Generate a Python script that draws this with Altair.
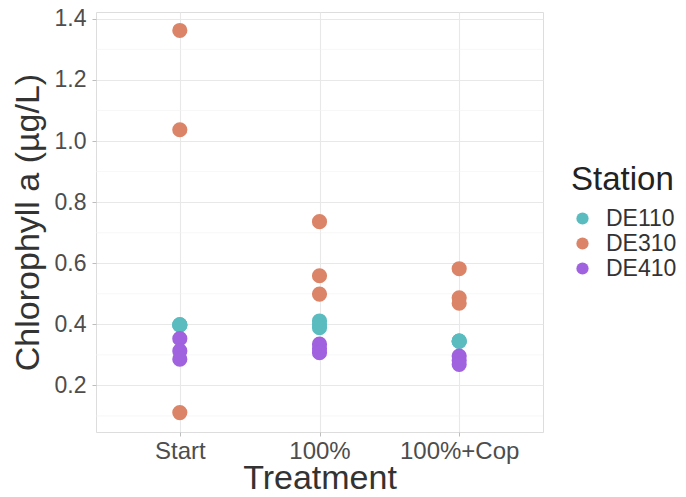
import altair as alt
import pandas as pd

treatments = ["Start", "100%", "100%+Cop"]
stations = ["DE110", "DE310", "DE410"]
colors = ["#5BBCC0", "#DB8468", "#A062DE"]

# values per treatment, per station
start_de110 = [0.398, 0.398, 0.398]
start_de310 = [1.362, 1.037, 0.111]
start_de410 = [0.353, 0.313, 0.286]
p100_de110 = [0.411, 0.389, 0.400]
p100_de310 = [0.736, 0.559, 0.499]
p100_de410 = [0.335, 0.321, 0.307]
cop_de110 = [0.345, 0.345, 0.345]
cop_de310 = [0.582, 0.487, 0.469]
cop_de410 = [0.296, 0.282, 0.269]

major_ticks = [0.2, 0.4, 0.6, 0.8, 1.0, 1.2, 1.4]
minor_grid = [0.1, 0.3, 0.5, 0.7, 0.9, 1.1, 1.3]

rows = []
for t, groups in zip(treatments, [
    [start_de110, start_de310, start_de410],
    [p100_de110, p100_de310, p100_de410],
    [cop_de110, cop_de310, cop_de410],
]):
    for s, vals in zip(stations, groups):
        for v in vals:
            rows.append({"Treatment": t, "Station": s, "Chl": v})
df = pd.DataFrame(rows)
minor_df = pd.DataFrame({"Chl": minor_grid})

yscale = alt.Scale(domain=[0.0475, 1.4225], nice=False, zero=False)
y_axis = alt.Axis(title="Chlorophyll a (µg/L)", values=major_ticks,
                  format=".1f", labelFontSize=23, titleFontSize=34,
                  labelColor="#4D4D4D", titleColor="#333333",
                  titleFontWeight="normal", tickColor="#BDBDBD",
                  tickSize=4, labelPadding=6, titlePadding=9,
                  domain=False, grid=True, gridColor="#E8E8E8",
                  gridWidth=1.1)

minor = alt.Chart(minor_df).mark_rule(color="#F2F2F2", strokeWidth=0.6).encode(
    y=alt.Y("Chl:Q", scale=yscale, axis=y_axis)
)

points = alt.Chart(df).mark_circle(size=230, opacity=1).encode(
    x=alt.X("Treatment:N", sort=treatments,
            scale=alt.Scale(type="point", padding=0.6),
            axis=alt.Axis(title="Treatment", labelAngle=0, labelFontSize=24,
                          titleFontSize=34, labelColor="#4D4D4D",
                          titleColor="#333333", titleFontWeight="normal",
                          tickColor="#BDBDBD", tickSize=4, labelPadding=3,
                          titleY=56, titleBaseline="alphabetic",
                          domain=False, grid=True,
                          gridColor="#E8E8E8", gridWidth=1.1)),
    y=alt.Y("Chl:Q", scale=yscale, axis=y_axis),
    color=alt.Color("Station:N", sort=stations,
                    scale=alt.Scale(domain=stations, range=colors),
                    legend=alt.Legend(title="Station", orient="none",
                                      legendX=475, legendY=152,
                                      titleFontSize=33, labelFontSize=23,
                                      titleColor="#222222", labelColor="#333333",
                                      titleFontWeight="normal", symbolSize=150,
                                      symbolType="circle", rowPadding=1,
                                      labelOffset=12,
                                      titlePadding=10, symbolStrokeWidth=0)),
)

chart = alt.layer(minor, points).properties(
    width=447, height=420,
    autosize=alt.AutoSizeParams(type="none"),
    padding={"left": 88, "top": 4, "right": 135, "bottom": 57},
).configure_view(stroke="#CCCCCC", strokeWidth=1.2).configure(
    font="Liberation Sans"
)

chart.save("out.html", embed_options={"renderer": "svg", "actions": False})
